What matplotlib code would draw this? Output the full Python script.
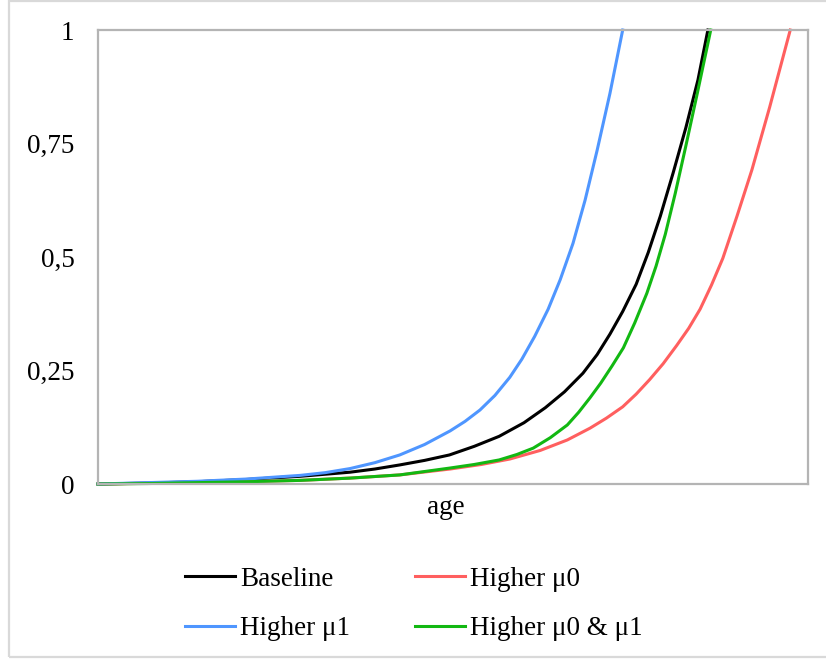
import matplotlib
matplotlib.use("Agg")
from matplotlib import pyplot as plt
from matplotlib.patches import Rectangle

plt.rcParams['font.family'] = ['Liberation Serif', 'DejaVu Serif']

# values (age axis has no labels, 0..100 used)
age_baseline = [0, 7, 14, 21, 28.5, 35.5, 39, 42.5, 46, 49.5, 53, 56.5, 60, 63, 65.7, 68.3, 70.3,
                72.1, 73.9, 75.8, 77.5, 79.2, 81, 82.8, 84.5, 85.9]
baseline = [0, 0.002, 0.005, 0.01, 0.017, 0.026, 0.033, 0.042, 0.052, 0.064, 0.083, 0.105, 0.135,
            0.168, 0.203, 0.244, 0.285, 0.33, 0.38, 0.44, 0.51, 0.59, 0.685, 0.785, 0.89, 1.0]

age_mu0 = [0, 14.5, 28.5, 35.5, 42.5, 49.6, 54, 58, 62.3, 66.1, 69.3, 71.6, 73.9, 75.8, 77.7,
           79.6, 81.5, 83.2, 84.8, 86.4, 88, 90, 92.1, 94.6, 97.5]
higher_mu0 = [0, 0.003, 0.008, 0.013, 0.02, 0.033, 0.043, 0.055, 0.074, 0.097, 0.123, 0.145, 0.17,
              0.198, 0.23, 0.265, 0.305, 0.343, 0.385, 0.438, 0.497, 0.59, 0.692, 0.83, 1.0]

age_mu1 = [0, 7, 14, 21, 28.5, 32, 35.5, 39, 42.5, 46, 49.6, 51.7, 53.8, 55.9, 58, 59.7, 61.5,
           63.4, 65.1, 66.9, 68.6, 70.3, 72.1, 73.9]
higher_mu1 = [0, 0.003, 0.006, 0.011, 0.019, 0.025, 0.034, 0.047, 0.064, 0.087, 0.117, 0.138,
              0.163, 0.195, 0.235, 0.275, 0.325, 0.385, 0.45, 0.53, 0.625, 0.735, 0.86, 1.0]

age_both = [0, 7, 14, 21, 28.5, 35.5, 42.5, 49.5, 53, 56.5, 59, 61.3, 63.7, 66.1, 67.7, 69.3,
            70.8, 72.4, 74, 75.6, 77.3, 78.6, 79.9, 81.3, 82.8, 84.4, 86.3]
higher_both = [0, 0.001, 0.003, 0.005, 0.008, 0.013, 0.02, 0.035, 0.043, 0.053, 0.065, 0.079,
               0.102, 0.13, 0.158, 0.19, 0.222, 0.26, 0.30, 0.355, 0.42, 0.48, 0.55, 0.64,
               0.745, 0.86, 1.0]

yticks = [0, 0.25, 0.5, 0.75, 1]
ytick_labels = ['0', '0,25', '0,5', '0,75', '1']

fig = plt.figure(figsize=(8.26, 6.61), dpi=100)
ax = fig.add_axes([98 / 826, 1 - 484 / 661, 710 / 826, 454 / 661])

lw = 2.2
l_base, = ax.plot(age_baseline, baseline, color='black', lw=lw, clip_on=False)
l_mu0, = ax.plot(age_mu0, higher_mu0, color='#FF5F5F', lw=lw, clip_on=False)
l_mu1, = ax.plot(age_mu1, higher_mu1, color='#4F96FF', lw=lw, clip_on=False)
l_both, = ax.plot(age_both, higher_both, color='#12B812', lw=lw, clip_on=False)

ax.set_xlim(0, 100)
ax.set_ylim(0, 1)
ax.set_xticks([])
ax.set_yticks(yticks)
ax.set_yticklabels(ytick_labels)
ax.tick_params(axis='y', length=0, pad=17, labelsize=19.5)
for s in ax.spines.values():
    s.set_color('#B4B4B4')
    s.set_linewidth(1.6)

fig.text(446 / 826, 1 - 507 / 661, 'age', ha='center', va='center', fontsize=19.5)

fig.legend([l_base, l_mu1, l_mu0, l_both],
           ['Baseline', 'Higher μ1', 'Higher μ0', 'Higher μ0 & μ1'],
           ncol=2, loc='center', bbox_to_anchor=(414 / 826, 1 - 604 / 661),
           frameon=False, fontsize=19.5, handlelength=1.85, handletextpad=0.18,
           columnspacing=2.4, labelspacing=0.92, borderpad=0)

# outer chart border
fig.patches.append(Rectangle((9 / 826, 4 / 661), 820 / 826, 656 / 661,
                             transform=fig.transFigure, fill=False,
                             edgecolor='#D9D9D9', lw=1.6))

fig.savefig('out.png', dpi=100)
